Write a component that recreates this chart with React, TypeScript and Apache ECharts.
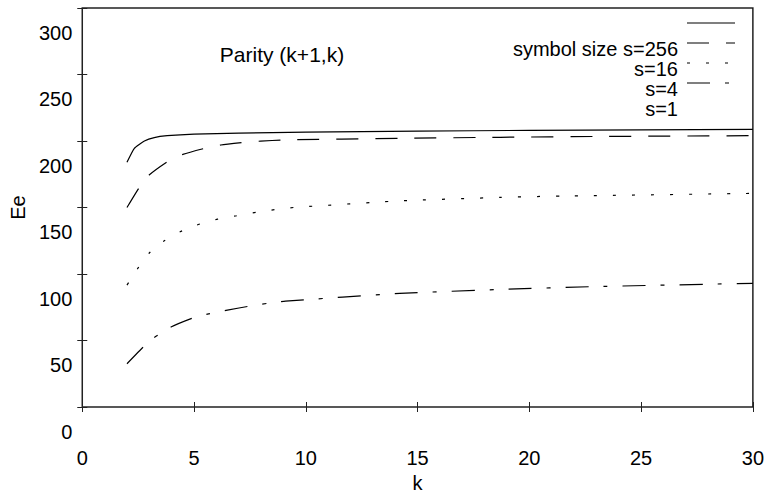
import React, { useEffect, useRef } from "react";
import * as echarts from "echarts";

// Ee against k for the parity (k+1,k) code, one curve per symbol size
const solidK = [2, 2.33, 2.78, 3.22, 3.8, 5, 7, 10, 15, 20, 25, 30];
const solidE = [184, 194.5, 200, 202.6, 204, 205.2, 205.9, 206.6, 207.4, 208, 208.4, 208.7];

const longDashK = [2, 2.54, 2.99, 3.83, 4.5, 5.44, 6.2, 7.22, 7.98, 9.0, 14.2, 18.7, 23.1, 30];
const longDashE = [150, 164.8, 174.4, 184.7, 189.9, 194.3, 197.0, 198.9, 199.9, 200.8, 202.0, 202.8, 203.4, 204.0];

const dottedK = [2, 2.49, 3.0, 3.64, 4.38, 5.19, 6.05, 6.91, 7.76, 8.6, 9.46, 14.2, 18.7, 21.4, 30];
const dottedE = [91.6, 104.4, 115.8, 124.7, 131.8, 137.2, 141.2, 143.8, 146.3, 148.4, 150.0, 155.0, 157.6, 158.6, 160.6];

const dashDotK = [2, 2.72, 3.22, 3.97, 4.93, 5.6, 6.49, 7.53, 8.28, 9.09, 14.2, 18.7, 23.1, 30];
const dashDotE = [32.5, 44.9, 52.2, 60.1, 66.8, 69.8, 72.8, 76.0, 77.9, 79.6, 85.4, 88.4, 90.6, 93.0];

const legendLabels = ["symbol size s=256", "s=16", "s=4", "s=1"];
const plotTitle = "Parity (k+1,k)";

const FONT = "Liberation Sans, Arial, Helvetica, sans-serif";

const DASH_LONG = [22, 17];
const DASH_DOT = [3, 16];
const DASH_DASHDOT = [23, 15, 4, 15];

function pairs(ks: number[], es: number[]) {
  return ks.map((k, i) => [k, es[i]]);
}

export default function App() {
  const ref = useRef<HTMLDivElement>(null);

  useEffect(() => {
    if (!ref.current) return;
    const chart = echarts.init(ref.current, undefined, { renderer: "svg" });

    const tickStyle = { inside: true, length: 5, lineStyle: { color: "#222", width: 1 } };
    const lineBase = { color: "#000", width: 1.2 };

    const mkSeries = (name: string, ks: number[], es: number[], type: any) => ({
      name,
      type: "line",
      data: pairs(ks, es),
      showSymbol: false,
      smooth: 0.15,
      lineStyle: { ...lineBase, type },
      xAxisIndex: 0,
      yAxisIndex: 0,
    });

    const legendX0 = 687;
    const legendX1 = 735;
    const legendLineY = [23, 43, 63, 83];
    const legendDash: any[] = [null, DASH_LONG, DASH_DOT, DASH_DASHDOT];

    const graphics: any[] = [
      {
        type: "text",
        style: {
          text: plotTitle,
          x: 282,
          y: 54,
          align: "center",
          verticalAlign: "middle",
          font: `21px ${FONT}`,
          fill: "#000",
        },
      },
    ];
    legendLineY.forEach((y, i) => {
      graphics.push({
        type: "line",
        shape: { x1: legendX0, y1: y, x2: legendX1, y2: y },
        style: { stroke: "#000", lineWidth: 1.2, lineDash: legendDash[i] || undefined },
      });
    });
    legendLabels.forEach((t, i) => {
      graphics.push({
        type: "text",
        style: {
          text: t,
          x: 678,
          y: 49 + i * 20,
          align: "right",
          verticalAlign: "middle",
          font: `20px ${FONT}`,
          fill: "#000",
        },
      });
    });

    chart.setOption({
      animation: false,
      backgroundColor: "#fff",
      grid: {
        left: 81,
        right: 13,
        top: 8,
        bottom: 84,
        show: true,
        borderColor: "#222",
        borderWidth: 1.5,
        containLabel: false,
      },
      xAxis: [
        {
          type: "value",
          min: 0,
          max: 30,
          interval: 5,
          position: "bottom",
          name: "k",
          nameLocation: "middle",
          nameGap: 66,
          nameTextStyle: { fontFamily: FONT, fontSize: 20, color: "#000" },
          axisLine: { show: false },
          axisTick: tickStyle,
          splitLine: { show: false },
          axisLabel: { margin: 41, fontFamily: FONT, fontSize: 20, color: "#000" },
        },
        {
          type: "value",
          min: 0,
          max: 30,
          interval: 5,
          position: "top",
          axisLine: { show: false },
          axisTick: tickStyle,
          splitLine: { show: false },
          axisLabel: { show: false },
        },
      ],
      yAxis: [
        {
          type: "value",
          min: 0,
          max: 300,
          interval: 50,
          position: "left",
          name: "Ee",
          nameLocation: "middle",
          nameRotate: 90,
          nameGap: 51,
          nameTextStyle: { fontFamily: FONT, fontSize: 20, color: "#000" },
          axisLine: { show: false },
          axisTick: tickStyle,
          splitLine: { show: false },
          axisLabel: {
            margin: 10,
            fontFamily: FONT,
            fontSize: 20,
            color: "#000",
            verticalAlign: "top",
            padding: [14.5, 0, 0, 0],
          },
        },
        {
          type: "value",
          min: 0,
          max: 300,
          interval: 50,
          position: "right",
          axisLine: { show: false },
          axisTick: tickStyle,
          splitLine: { show: false },
          axisLabel: { show: false },
        },
      ],
      series: [
        mkSeries("s=256", solidK, solidE, "solid"),
        mkSeries("s=16", longDashK, longDashE, DASH_LONG),
        mkSeries("s=4", dottedK, dottedE, DASH_DOT),
        mkSeries("s=1", dashDotK, dashDotE, DASH_DASHDOT),
      ],
      graphic: graphics,
    });

    return () => chart.dispose();
  }, []);

  return (
    <div
      ref={ref}
      style={{ position: "fixed", left: 0, top: 0, width: 767, height: 498, background: "#fff" }}
    />
  );
}
